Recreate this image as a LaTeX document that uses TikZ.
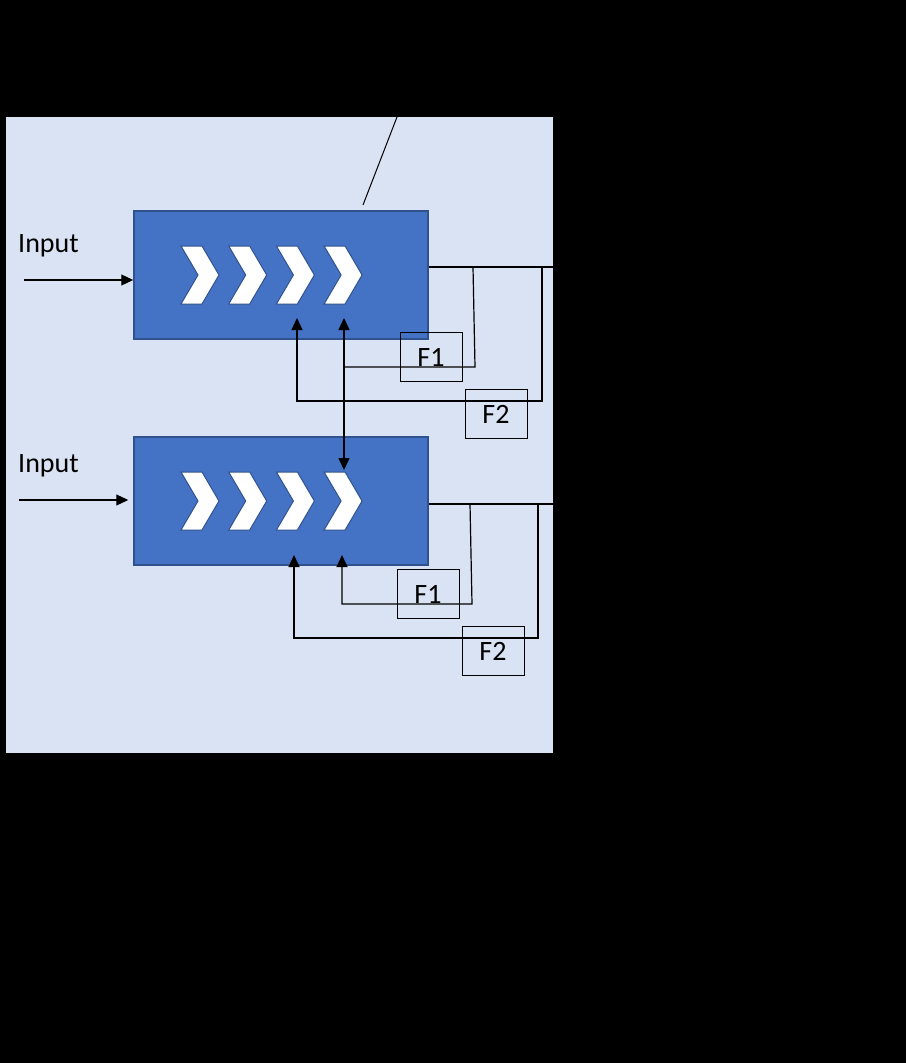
\documentclass[tikz,border=0pt]{standalone}
\usepackage{fontspec}
\setmainfont{Carlito}
\usepackage{xcolor}
\usepackage{tikz}
\usetikzlibrary{arrows.meta, calc, positioning}

\definecolor{panelblue}{HTML}{DAE3F3}
\definecolor{boxblue}{HTML}{4472C4}
\definecolor{edgeblue}{HTML}{2F528F}

\tikzset{
    stage/.style={draw=edgeblue, line width=1.5pt, fill=boxblue, minimum width=294pt, minimum height=128pt, inner sep=0pt},
    chev/.style={draw=edgeblue, line width=1pt, fill=white, line join=miter},
    fbox/.style={draw, line width=1pt, minimum width=62pt, minimum height=49pt, inner sep=0pt, font=\fontsize{28}{32}\selectfont},
    wire/.style={line width=1.2pt},
    tip/.style={-{Triangle[length=12pt,width=11pt]}},
    lbl/.style={inner sep=0pt, anchor=base west, font=\fontsize{28}{32}\selectfont}
}

\begin{document}
\begin{tikzpicture}[x=1pt, y=-1pt]
    % Background and panel
    \fill[black] (0,0) rectangle (906,1063);
    \fill[panelblue] (6,117) rectangle (553,753);
    \useasboundingbox (0,0) rectangle (906,1063);

    % Pointer line at the top
    \coordinate (ptop) at (397,117);
    \coordinate (pbot) at (363,205);
    \draw[line width=1pt] (ptop) -- (pbot);

    % Stages
    \node[stage] (box1) at (281,275) {};
    \node[stage] (box2) at (281,501) {};

    % Chevrons inside each stage
    \foreach \y in {246,472} {
        \foreach \i in {0,1,2,3} {
            \draw[chev, shift={(181+\i*47.7,\y)}] (0,0) -- (21,0) -- (38,29) -- (21,58) -- (0,58) -- (17,29) -- cycle;
        }
    }

    % Inputs
    \node[lbl] (lin1) at (18,252) {Input};
    \node[lbl] (lin2) at (18,472) {Input};
    \coordinate (in1) at (24,280);
    \coordinate (in2) at (19,500);
    \draw[wire, tip] (in1) -- (in1 -| box1.west);
    \draw[wire, tip, shorten >=5pt] (in2) -- (in2 -| box2.west);

    % Filter boxes
    \node[fbox] (f1a) at (431,357) {F1};
    \node[fbox] (f2a) at (496,414) {F2};
    \node[fbox] (f1b) at (428,594) {F1};
    \node[fbox] (f2b) at (493,651) {F2};

    % Outputs of the first stage
    \coordinate (out1) at (553,267);
    \draw[wire] (box1.east |- out1) -- (out1);
    \coordinate (ua) at (344,318);
    \coordinate (ub) at (344,470);
    \draw[wire] (473,267) -- (475,367) -- (344,367);
    \draw[wire, tip] (542,267) -- (542,401) -- (297,401) -- (297,318);
    \draw[wire, {Triangle[length=12pt,width=11pt]}-{Triangle[length=12pt,width=11pt]}] (ua) -- (ub);

    % Outputs of the second stage
    \coordinate (out2) at (553,504);
    \draw[wire] (box2.east |- out2) -- (out2);
    \draw[wire, tip] (470,504) -- (472,604) -- (342,604) -- (342,555);
    \draw[wire, tip] (538,504) -- (538,638) -- (294,638) -- (294,555);
\end{tikzpicture}
\end{document}
